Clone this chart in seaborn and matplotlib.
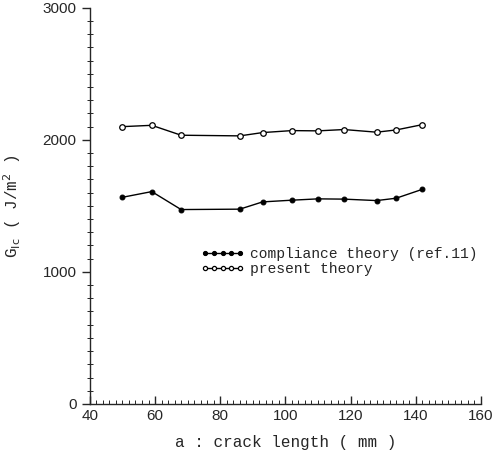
import matplotlib
matplotlib.use("Agg")
import matplotlib.pyplot as plt
import seaborn as sns
import pandas as pd
from matplotlib.ticker import MultipleLocator

crack_length = [50, 59, 68, 86, 93, 102, 110, 118, 128, 134, 142]
present_theory = [2100, 2110, 2035, 2030, 2055, 2070, 2068, 2078, 2058, 2075, 2115]
compliance_theory = [1565, 1608, 1472, 1475, 1530, 1543, 1553, 1551, 1540, 1558, 1625]
series_labels = ["compliance theory (ref.11)", "present theory"]

df = pd.DataFrame({
    "a": crack_length * 2,
    "G": compliance_theory + present_theory,
    "series": [series_labels[0]] * len(crack_length) + [series_labels[1]] * len(crack_length),
})

sns.set_style("ticks")
plt.rcParams["font.family"] = ["Liberation Sans", "DejaVu Sans"]

fig = plt.figure(figsize=(5.02, 4.59), dpi=100)
ax = fig.add_axes([0.179, 0.120, 0.779, 0.863])

sns.lineplot(data=df[df.series == series_labels[0]], x="a", y="G", ax=ax,
             color="black", lw=1.0, marker="o", markersize=3.5,
             markerfacecolor="black", markeredgecolor="black",
             label=series_labels[0])
sns.lineplot(data=df[df.series == series_labels[1]], x="a", y="G", ax=ax,
             color="black", lw=1.0, marker="o", markersize=4,
             markerfacecolor="white", markeredgecolor="black", markeredgewidth=0.9,
             label=series_labels[1])

ax.set_xlim(40, 160)
ax.set_ylim(0, 3000)
ax.xaxis.set_major_locator(MultipleLocator(20))
ax.xaxis.set_minor_locator(MultipleLocator(2))
ax.yaxis.set_major_locator(MultipleLocator(1000))
ax.yaxis.set_minor_locator(MultipleLocator(100))
sns.despine(ax=ax)
for s in ["left", "bottom"]:
    ax.spines[s].set_linewidth(1.0)
ax.tick_params(axis="x", which="major", direction="in", length=6, width=1, labelsize=11, pad=4)
ax.tick_params(axis="x", which="minor", direction="in", length=3, width=0.7)
ax.tick_params(axis="y", which="major", direction="out", length=6, width=1, labelsize=11)
ax.tick_params(axis="y", which="minor", direction="inout", length=5, width=0.7)

mono = ["Liberation Mono", "DejaVu Sans Mono"]
ax.set_xlabel("a : crack length ( mm )", fontsize=11.5, family=mono, labelpad=8)
ax.set_ylabel(r"G$_{\rm Ic}$ ( J/m$^2$ )", fontsize=11.5, family=mono, labelpad=14)

leg = ax.legend(loc="upper left", bbox_to_anchor=(0.25, 0.43), frameon=False,
                numpoints=5, handlelength=3.0, handletextpad=0.35,
                labelspacing=0.1, prop={"family": mono, "size": 10.5})
for h in leg.legend_handles:
    h.set_markersize(3)

fig.savefig("out.png", dpi=100)
